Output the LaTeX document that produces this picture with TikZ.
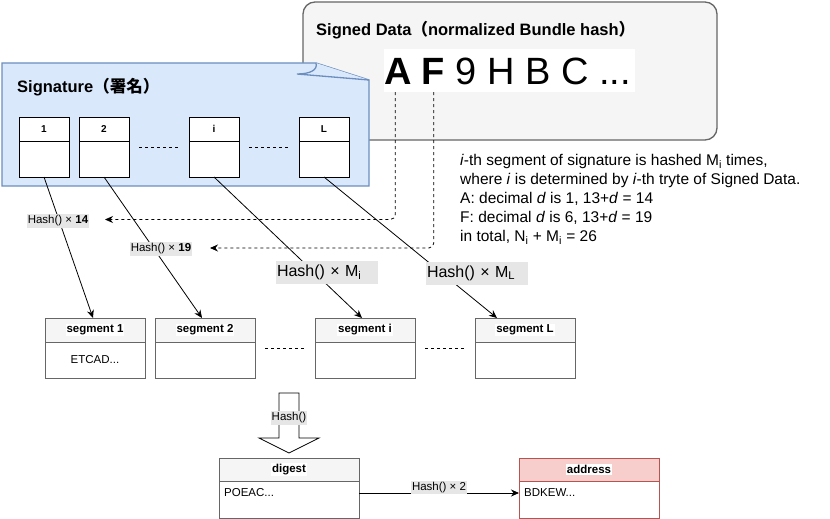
\documentclass[tikz,border=0pt]{standalone}
\usepackage{fontspec}
\setmainfont{Liberation Sans}
\newfontfamily\cjk{Noto Sans CJK JP}
\usetikzlibrary{calc,positioning,arrows.meta}
\definecolor{sigfill}{HTML}{DAE8FC}
\definecolor{sigline}{HTML}{6C8EBF}
\definecolor{datafill}{HTML}{F5F5F5}
\definecolor{boxline}{HTML}{666666}
\definecolor{addrfill}{HTML}{F8CECC}
\definecolor{addrline}{HTML}{B85450}
\definecolor{lblfill}{HTML}{E6E6E6}
\newcommand{\wbg}[1]{{\setlength{\fboxsep}{1pt}\colorbox{white}{#1}}}
\newcommand{\fsz}[1]{\fontsize{#1}{#1}\selectfont}
\tikzset{
  sighead/.style={draw, fill=white, minimum width=50pt, minimum height=24pt, inner sep=0pt, outer sep=0pt, font=\fsz{10}\bfseries},
  sigbody/.style={draw, fill=white, minimum width=50pt, minimum height=36pt, inner sep=0pt, outer sep=0pt},
  seghead/.style={draw=boxline, fill=datafill, minimum width=100pt, minimum height=24pt, inner sep=0pt, outer sep=0pt, font=\fsz{11.5}\bfseries},
  segbody/.style={draw=boxline, fill=white, minimum width=100pt, minimum height=36pt, inner sep=0pt, outer sep=0pt, font=\fsz{11.5}},
  lblsmall/.style={fill=lblfill, inner xsep=1pt, inner ysep=2pt, font=\fsz{11.5}},
  lblbig/.style={fill=lblfill, inner sep=1pt, text width=100pt, align=left, minimum height=23pt, font=\fsz{16}},
  arr/.style={-{Stealth[length=8pt,width=7pt]}, line width=0.8pt},
  dasharr/.style={-{Stealth[length=8pt,width=7pt]}, line width=0.8pt, dash pattern=on 3pt off 3pt},
  dots/.style={line width=0.8pt, dash pattern=on 3pt off 3pt}
}
\begin{document}
\begin{tikzpicture}[x=1pt,y=-1pt]
\useasboundingbox (0,0) rectangle (830,519);

% signed data
\draw[draw=boxline, fill=datafill, line width=1.3pt, rounded corners=12pt] (303,2) rectangle (717,140);
\node[anchor=west, inner sep=0pt, font=\fsz{16.5}\bfseries] (datatitle) at (316,30) {Signed Data{\cjk （}normalized Bundle hash{\cjk ）}};
\node[fill=white, inner sep=0pt, minimum width=251pt, minimum height=43pt] (hashbg) at (509.5,70.5) {};
\node[anchor=west, inner sep=0pt, font=\fsz{38}] (hashstr) at ($(hashbg.west)+(0,1)$) {\textbf{A} \textbf{F} 9 H B C ...};

% signature
\draw[draw=sigline, fill=sigfill, line width=1.3pt] (2,63) -- (316,63) -- (369,80) -- (369,186) -- (2,186) -- cycle;
\draw[draw=sigline, fill=sigfill, line width=1.3pt] (316,63) .. controls (318,70) and (310,74) .. (297,74) -- (369,80);
\node[anchor=west, inner sep=0pt, font=\fsz{16.5}\bfseries] (sigtitle) at (17,87) {Signature{\cjk （署名）}};

\node[sighead] (h1) at (44,129) {1};
\node[sighead] (h2) at (104,129) {2};
\node[sighead] (hi) at (214,129) {i};
\node[sighead] (hL) at (324,129) {L};
\node[sigbody, below=0pt of h1] (b1) {};
\node[sigbody, below=0pt of h2] (b2) {};
\node[sigbody, below=0pt of hi] (bi) {};
\node[sigbody, below=0pt of hL] (bL) {};
\draw[dots] ($(h2.south east)+(10,6)$) -- ($(hi.south west)+(-10,6)$);
\draw[dots] ($(hi.south east)+(10,6)$) -- ($(hL.south west)+(-10,6)$);

% segments
\node[seghead] (sh1) at (95,330) {\wbg{segment 1}};
\node[seghead] (sh2) at (205,330) {\wbg{segment 2}};
\node[seghead] (shi) at (365,330) {\wbg{segment i}};
\node[seghead] (shL) at (525,330) {\wbg{segment L}};
\node[segbody, below=0pt of sh1] (sb1) {ETCAD...};
\node[segbody, below=0pt of sh2] (sb2) {};
\node[segbody, below=0pt of shi] (sbi) {};
\node[segbody, below=0pt of shL] (sbL) {};
\draw[dots] ($(sh2.south east)+(10,6)$) -- ($(shi.south west)+(-10,6)$);
\draw[dots] ($(shi.south east)+(10,6)$) -- ($(shL.south west)+(-10,6)$);

\draw[arr] (b1.south) -- ($(sh1.north)+(-2,0)$);
\draw[arr] (b2.south) -- ($(sh2.north)+(-3,0)$);
\draw[arr] (bi.south) -- ($(shi.north)+(-3,0)$);
\draw[arr] (bL.south) -- ($(shL.north west)+(22,0)$);

\node[lblsmall] (n14) at (58,221) {Hash() × \textbf{14}};
\node[lblsmall] (n19) at (161,249) {Hash() × \textbf{19}};
\node[lblbig] (nMi) at (327,272.5) {Hash() × M\textsubscript{i}};
\node[lblbig] (nML) at (477,273) {Hash() × M\textsubscript{L}};

% tryte lookups
\coordinate (t14) at (105,219.5);
\coordinate (t19) at (210,248);
\draw[dasharr, rounded corners=5pt] ($(hashbg.south west)+(11.5,0)$) |- (t14);
\draw[dasharr, rounded corners=5pt] ($(hashbg.south west)+(50,0)$) |- (t19);

\node[anchor=north west, inner sep=0pt, align=left, font=\fontsize{15.5}{19}\selectfont] (note) at (460,154) {\textit{i}-th segment of signature is hashed M\textsubscript{i} times,\\
where \textit{i} is determined by \textit{i}-th tryte of Signed Data.\\
A: decimal \textit{d} is 1, 13+\textit{d} = 14\\
F: decimal \textit{d} is 6, 13+\textit{d} = 19\\
in total, N\textsubscript{i} + M\textsubscript{i} = 26};

% digest and address
\draw[fill=white, line width=0.8pt] (279,393) -- (299,393) -- (299,438) -- (319,438) -- (289,453) -- (259,438) -- (279,438) -- cycle;
\node[lblsmall] (nhash) at (289,418) {Hash()};

\node[seghead, minimum width=140pt, minimum height=23pt] (dh) at (289,469.5) {\wbg{digest}};
\node[segbody, minimum width=140pt, minimum height=37pt, below=0pt of dh] (db) {};
\node[anchor=west, inner sep=0pt, font=\fsz{11.5}] (dtxt) at ($(db.north west)+(5,12)$) {POEAC...};
\node[seghead, draw=addrline, fill=addrfill, minimum width=140pt, minimum height=23pt] (ah) at (589,469.5) {\wbg{address}};
\node[segbody, draw=addrline, minimum width=140pt, minimum height=37pt, below=0pt of ah] (ab) {};
\node[anchor=west, inner sep=0pt, font=\fsz{11.5}] (atxt) at ($(ab.north west)+(5,12)$) {BDKEW...};

\draw[arr] ($(db.north east)+(0,12)$) -- node[lblsmall, anchor=south, inner ysep=1pt, yshift=-1pt] (n2) {Hash() × 2} ($(ab.north west)+(0,12)$);
\end{tikzpicture}
\end{document}
